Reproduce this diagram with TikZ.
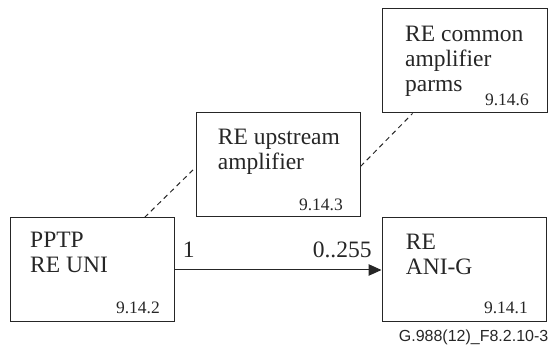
\documentclass[tikz,border=0pt]{standalone}
\usepackage{fontspec}
\setmainfont{Liberation Serif}
\newfontfamily\capfont{Liberation Sans}
\usetikzlibrary{arrows.meta}
\definecolor{ink}{HTML}{262626}
\tikzset{
  x=1pt,y=1pt,
  box/.style={draw=ink,line width=1pt,minimum width=164pt,minimum height=104pt,inner sep=0pt},
  maintext/.style={inner sep=0pt,anchor=north west,align=left,text=ink,font=\fontsize{23.5}{25}\selectfont},
  numtext/.style={inner sep=0pt,anchor=base east,text=ink,font=\fontsize{17.5}{20}\selectfont},
  multext/.style={inner sep=0pt,text=ink,font=\fontsize{23.5}{25}\selectfont},
  assoc/.style={draw=ink,line width=1pt,dash pattern=on 5pt off 4pt},
}
\begin{document}
\begin{tikzpicture}
\useasboundingbox (0,0) rectangle (549,-352);
\node[box] (pptp) at (92,-270) {};
\node[box] (up) at (278,-165) {};
\node[box,minimum width=165pt] (common) at (464.5,-61) {};
\node[box] (ani) at (464,-270) {};
% texts
\node[maintext] (tpptp) at (30,-232.4) {PPTP\\RE UNI};
\node[maintext] (tup) at (217.7,-129.4) {RE upstream\\amplifier};
\node[maintext] (tcommon) at (405,-26.1) {RE common\\amplifier\\parms};
\node[maintext] (tani) at (405.7,-233.7) {RE\\ANI-G};
\node[numtext] (npptp) at (160,-314) {9.14.2};
\node[numtext] (nup) at (343,-210.7) {9.14.3};
\node[numtext] (ncommon) at (529,-106) {9.14.6};
\node[numtext] (nani) at (528,-314) {9.14.1};
% connectors
\draw[draw=ink,line width=1pt,-{Triangle[length=13pt,width=11.5pt]}] (pptp.east) -- (ani.west);
\node[multext,anchor=base west] (m1) at (182.7,-257.7) {1};
\node[multext,anchor=base east] (m2) at (371.7,-257.7) {0..255};
\draw[assoc] ([xshift=135pt]pptp.north west) -- ([yshift=50pt]up.south west);
\draw[assoc] ([yshift=51pt]up.south east) -- ([xshift=31pt]common.south west);
\node[inner sep=0pt,anchor=base east,text=ink,font=\capfont\fontsize{16}{18}\selectfont] (cap) at (548.5,-341.7) {G.988(12)\_F8.2.10-3};
\end{tikzpicture}
\end{document}
